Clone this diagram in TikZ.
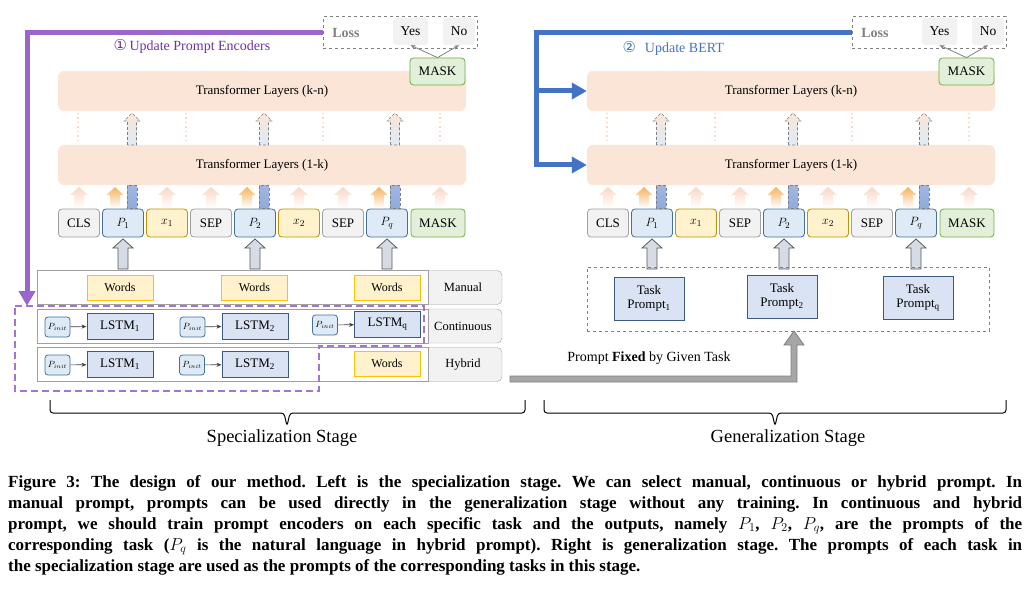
\documentclass[tikz,border=0pt]{standalone}
\usepackage{fontspec}
\setmainfont{Liberation Serif}
\newfontfamily\circfont{DejaVu Sans}
\usetikzlibrary{arrows.meta}
\frenchspacing

\definecolor{layerpeach}{HTML}{FBE5D6}
\definecolor{fadepeach}{HTML}{F8D8C4}
\definecolor{tokgray}{HTML}{F2F2F2}
\definecolor{tokline}{HTML}{A0A0A0}
\definecolor{pfill}{HTML}{DEEBF7}
\definecolor{pline}{HTML}{41719C}
\definecolor{xfill}{HTML}{FFF2CC}
\definecolor{xline}{HTML}{BF9000}
\definecolor{mfill}{HTML}{E2F0D9}
\definecolor{mline}{HTML}{70AD47}
\definecolor{wordline}{HTML}{FFC000}
\definecolor{lstmfill}{HTML}{DAE3F3}
\definecolor{lstmline}{HTML}{3B5A80}
\definecolor{encpurple}{HTML}{9966CC}
\definecolor{enctext}{HTML}{7030A0}
\definecolor{bertblue}{HTML}{4472C4}
\definecolor{orangetop}{HTML}{F7B360}
\definecolor{barblue}{HTML}{8FAADC}
\definecolor{arrowgray}{HTML}{D6DCE5}

% block arrow pointing up: x, y bottom, y top, shaft half width, head half width, head length, style
\newcommand{\fatarrow}[7]{%
  \path[#7] ({#1-#4},#2) -- ({#1-#4},{#3+#6}) -- ({#1-#5},{#3+#6}) -- (#1,#3)
    -- ({#1+#5},{#3+#6}) -- ({#1+#4},{#3+#6}) -- ({#1+#4},#2) -- cycle;}

\tikzset{
  layer/.style={fill=layerpeach, rounded corners=6pt, minimum width=408, minimum height=40, font=\fontsize{13}{15}\selectfont},
  tok/.style={draw, line width=0.8pt, rounded corners=3.5pt, minimum width=41, minimum height=28, inner sep=0pt, font=\fontsize{13}{15}\selectfont},
  graytok/.style={tok, fill=tokgray, draw=tokline},
  ptok/.style={tok, fill=pfill, draw=pline},
  xtok/.style={tok, fill=xfill, draw=xline},
  masktok/.style={tok, fill=mfill, draw=mline, minimum width=54},
  fadearr/.style={top color=fadepeach, bottom color=white},
  orangearr/.style={top color=orangetop, bottom color=white},
  bluebar/.style={top color=barblue!85, bottom color=barblue, draw=gray, dash pattern=on 3pt off 2pt, line width=0.6pt},
  layerarr/.style={top color=layerpeach, bottom color=pfill, draw=gray, dash pattern=on 3pt off 2pt, line width=0.6pt},
  dotline/.style={draw=fadepeach, line width=1.5pt, dash pattern=on 1.5pt off 3pt},
  inarr/.style={fill=arrowgray, draw=black!65, line width=0.8pt},
  lossbox/.style={draw=gray, dashed, line width=1pt, minimum width=154, minimum height=32},
  yn/.style={fill=tokgray, rounded corners=3pt, minimum height=27, inner sep=0pt, font=\fontsize{13.5}{15}\selectfont},
  ynarr/.style={-{Stealth[length=5pt,width=4pt]}, gray, line width=0.8pt},
  rowbox/.style={draw=tokline, fill=white, minimum width=391, minimum height=34, inner sep=0pt},
  rowlab/.style={draw=tokline, fill=tokgray, rounded corners=5pt, minimum width=78, minimum height=34, font=\fontsize{12.5}{15}\selectfont},
  words/.style={draw=wordline, fill=xfill, line width=1pt, minimum width=66, minimum height=25, font=\fontsize{12}{14}\selectfont},
  lstm/.style={draw=lstmline, fill=lstmfill, line width=1pt, minimum width=66, minimum height=26, font=\fontsize{13}{15}\selectfont},
  pinit/.style={draw=pline, fill=pfill, rounded corners=3pt, line width=0.8pt, minimum width=25, minimum height=20, inner sep=0pt, font=\fontsize{9}{10}\selectfont},
  smallarr/.style={-{Stealth[length=5pt,width=4pt]}, black!75, line width=0.7pt},
  taskbox/.style={draw=gray, dashed, line width=1pt, minimum width=402, minimum height=64},
  tprompt/.style={draw=lstmline, fill=lstmfill, line width=1pt, minimum width=70, minimum height=43, align=center, font=\fontsize{13}{14}\selectfont},
  feedback/.style={line width=5pt, -{Triangle[length=15pt,width=16pt]}},
  stagebrace/.style={line width=1pt, rounded corners=3pt},
  stagelab/.style={font=\fontsize{18.5}{20}\selectfont},
}

% BERT with its input tokens, drawn once per stage
\newcommand{\bertpanel}[1]{
  \node[layer] (#1kn) at (262,91) {Transformer Layers (k-n)};
  \node[layer] (#1ok) at (262,165) {Transformer Layers (1-k)};
  \node[graytok] (#1cls) at (79,223) {CLS};
  \node[ptok] (#1p1) at (123,223) {$P_1$};
  \node[xtok] (#1x1) at (167,223) {$x_1$};
  \node[graytok] (#1sepa) at (211,223) {SEP};
  \node[ptok] (#1p2) at (255,223) {$P_2$};
  \node[xtok] (#1x2) at (299,223) {$x_2$};
  \node[graytok] (#1sepb) at (343,223) {SEP};
  \node[ptok] (#1pq) at (387,223) {$P_q$};
  \node[masktok] (#1mask) at (438,223) {MASK};
  % tokens into layers (1-k)
  \fatarrow{79}{208}{187}{5}{9}{8}{fadearr}
  \fatarrow{167}{208}{187}{5}{9}{8}{fadearr}
  \fatarrow{211}{208}{187}{5}{9}{8}{fadearr}
  \fatarrow{299}{208}{187}{5}{9}{8}{fadearr}
  \fatarrow{343}{208}{187}{5}{9}{8}{fadearr}
  \fatarrow{440}{208}{187}{5}{9}{8}{fadearr}
  \fatarrow{115}{208}{187}{5}{8.5}{8}{orangearr}
  \fatarrow{247}{208}{187}{5}{8.5}{8}{orangearr}
  \fatarrow{379}{208}{187}{5}{8.5}{8}{orangearr}
  \path[bluebar] (127,208.5) rectangle (137,185.5);
  \path[bluebar] (259,208.5) rectangle (269,185.5);
  \path[bluebar] (390,208.5) rectangle (400,185.5);
  % layers (1-k) into layers (k-n)
  \draw[dotline] (78,113) -- (78,144);
  \draw[dotline] (186,113) -- (186,144);
  \draw[dotline] (323,113) -- (323,144);
  \draw[dotline] (440,113) -- (440,144);
  \fatarrow{132}{145}{113}{4.5}{8}{8}{layerarr}
  \fatarrow{264}{145}{113}{4.5}{8}{8}{layerarr}
  \fatarrow{395}{145}{113}{4.5}{8}{8}{layerarr}
  % prompts into tokens
  \fatarrow{123}{269}{239}{5}{10}{9}{inarr}
  \fatarrow{255}{269}{239}{5}{10}{9}{inarr}
  \fatarrow{387}{269}{239}{5}{10}{9}{inarr}
  % output and loss
  \node[masktok, minimum width=55, minimum height=27] (#1top) at (437.5,71.5) {MASK};
  \node[lossbox] (#1loss) at (400,33) {};
  \node[text=gray, font=\bfseries\fontsize{14}{16}\selectfont] (#1losstext) at (346,33) {Loss};
  \node[yn, minimum width=35] (#1yes) at (410.5,31.5) {Yes};
  \node[yn, minimum width=32] (#1no) at (459,31.5) {No};
  \draw[ynarr] (#1top.north) -- (#1yes.south);
  \draw[ynarr] (#1top.north) -- (#1no.south);
}

\begin{document}
\begin{tikzpicture}[x=1pt, y=-1pt]
\useasboundingbox (0,0) rectangle (1031,591);

\begin{scope}
  \bertpanel{l}
\end{scope}
\begin{scope}[xshift=529]
  \bertpanel{r}
\end{scope}

% specialization stage: prompt types
\node[rowlab] (manlab) at (463,287.5) {Manual};
\node[rowbox] (manrow) at (232.5,287.5) {};
\node[rowlab] (conlab) at (463,326) {Continuous};
\node[rowbox] (conrow) at (232.5,326) {};
\node[rowlab] (hyblab) at (463,364.5) {Hybrid};
\node[rowbox] (hybrow) at (232.5,364.5) {};

\node[words] (mw1) at (120,287.5) {Words};
\node[words] (mw2) at (254.5,287.5) {Words};
\node[words] (mw3) at (387,287.5) {Words};

\node[pinit] (cp1) at (57.5,327) {$P_{init}$};
\node[lstm] (cl1) at (120,326) {LSTM\textsubscript{1}};
\node[pinit] (cp2) at (192.5,327) {$P_{init}$};
\node[lstm] (cl2) at (255,326) {LSTM\textsubscript{2}};
\node[pinit] (cp3) at (325,325) {$P_{init}$};
\node[lstm] (cl3) at (387.5,324.5) {LSTM\textsubscript{q}};
\draw[smallarr] (cp1) -- (cl1);
\draw[smallarr] (cp2) -- (cl2);
\draw[smallarr] (cp3) -- (cl3);

\node[pinit] (hp1) at (57.5,365) {$P_{init}$};
\node[lstm] (hl1) at (120,364.5) {LSTM\textsubscript{1}};
\node[pinit] (hp2) at (192,365) {$P_{init}$};
\node[lstm] (hl2) at (255,364.5) {LSTM\textsubscript{2}};
\node[words] (hw3) at (387,363.5) {Words};
\draw[smallarr] (hp1) -- (hl1);
\draw[smallarr] (hp2) -- (hl2);

% prompt encoders
\draw[encpurple!90, dashed, line width=2.5pt, dash pattern=on 7pt off 4pt]
  (15,306) -- (424,306) -- (424,346) -- (319,346) -- (319,391) -- (15,391) -- cycle;
\coordinate (enctop) at (27,306);
\draw[feedback, encpurple] (lloss.west) -| (enctop);
\node[text=enctext, font=\fontsize{14}{16}\selectfont] (enclab) at (192,46)
  {{\circfont\fontsize{15}{16}\selectfont ①}\,Update Prompt Encoders};

% generalization stage: task prompts
\node[taskbox] (tasks) at (788,299) {};
\node[tprompt] (tp1) at (649,298.5) {Task\\Prompt\textsubscript{1}};
\node[tprompt] (tp2) at (782,296.5) {Task\\Prompt\textsubscript{2}};
\node[tprompt] (tpq) at (918,298) {Task\\Prompt\textsubscript{q}};

% update BERT
\coordinate (bertsplit) at (536,165);
\coordinate (bertbranch) at (536,91);
\draw[feedback, bertblue] (rloss.west) -| (bertsplit) -- (rok.west);
\draw[feedback, bertblue] (bertbranch) -- (rkn.west);
\node[text=bertblue, anchor=west, font=\fontsize{14}{16}\selectfont] (bertlab) at (619,48)
  {{\circfont\fontsize{15}{16}\selectfont ②}\hspace{9pt}Update BERT};

% prompt handed over
\path[fill=black!35, draw=black!50, line width=0.8pt]
  (510,376) -- (791,376) -- (791,345) -- (784,345) -- (794,331) -- (804,345)
  -- (797,345) -- (797,382) -- (510,382) -- cycle;
\node[font=\fontsize{14}{16}\selectfont] (fixlab) at (649,358) {Prompt \textbf{Fixed} by Given Task};

% stages
\draw[stagebrace] (50,400) -- (50,413) -- (284,413) -- (287,426) -- (290,413) -- (525,413) -- (525,400);
\node[stagelab] (speclab) at (282,438) {Specialization Stage};
\draw[stagebrace] (544,400) -- (544,413) -- (772,413) -- (775,426) -- (778,413) -- (1006,413) -- (1006,400);
\node[stagelab] (genlab) at (788,438) {Generalization Stage};

\node[anchor=north west, text width=1014pt, align=justify, inner sep=0pt,
  font=\bfseries\fontsize{17}{21}\selectfont] (caption) at (8,475)
  {Figure 3: The design of our method. Left is the specialization stage. We can select manual, continuous or hybrid prompt. In\linebreak
   manual prompt, prompts can be used directly in the generalization stage without any training. In continuous and hybrid\linebreak
   prompt, we should train prompt encoders on each specific task and the outputs, namely $P_1$, $P_2$, $P_q$, are the prompts of the\linebreak
   corresponding task ($P_q$ is the natural language in hybrid prompt). Right is generalization stage. The prompts of each task in\linebreak
   the specialization stage are used as the prompts of the corresponding tasks in this stage.};
\end{tikzpicture}
\end{document}
